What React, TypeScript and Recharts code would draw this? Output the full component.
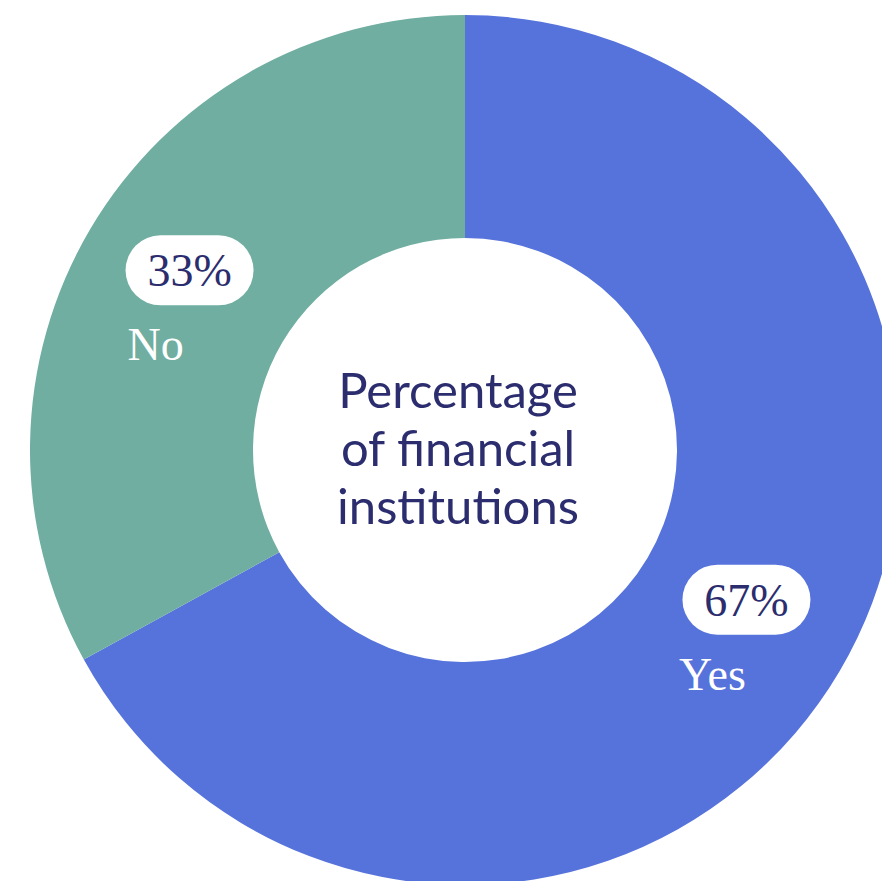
import React from "react";
import { PieChart, Pie, Cell, Label } from "recharts";

const categories = ["Yes", "No"];
const values = [67, 33];
const colors = ["#5673DC", "#6FAEA0"];
const centerLines = ["Percentage", "of financial", "institutions"];

const data = categories.map((name, i) => ({ name, value: values[i] }));

const CX = 465;
const CY = 450;
const RAD = Math.PI / 180;

const renderLabel = (props: any) => {
  const { cx, cy, midAngle, innerRadius, outerRadius, name, value } = props;
  const r = (innerRadius + outerRadius) / 2;
  const x = cx + r * Math.cos(-midAngle * RAD);
  const y = cy + r * Math.sin(-midAngle * RAD);
  const pillW = 128;
  const pillH = 70;
  const px = x + 3;
  const py = y - 15;
  return (
    <g>
      <rect x={px - pillW / 2} y={py - pillH / 2} width={pillW} height={pillH} rx={35} ry={35} fill="#ffffff" />
      <text x={px} y={py + 16} textAnchor="middle" fill="#2B2D6E" fontFamily="'Liberation Serif', serif" fontSize={46}>
        {`${value}%`}
      </text>
      <text x={px - 34} y={y + 75} textAnchor="middle" fill="#ffffff" fontFamily="'Liberation Serif', serif" fontSize={46}>
        {name}
      </text>
    </g>
  );
};

const CenterText = () => (
  <text textAnchor="middle" fill="#2B2D6E" fontFamily="Lato, sans-serif" fontSize={49}>
    {centerLines.map((l, i) => (
      <tspan key={i} x={CX - 7} y={CY - 42 + i * 58}>
        {l}
      </tspan>
    ))}
  </text>
);

export default function App() {
  return (
    <div style={{ position: "absolute", left: 0, top: 0, width: 882, height: 881, background: "#ffffff" }}>
      <PieChart width={882} height={881} margin={{ top: 0, right: 0, bottom: 0, left: 0 }}>
        <Pie
          data={data}
          dataKey="value"
          nameKey="name"
          cx={CX}
          cy={CY}
          innerRadius={212}
          outerRadius={435}
          startAngle={90}
          endAngle={-270}
          stroke="none"
          labelLine={false}
          label={renderLabel}
          isAnimationActive={false}
        >
          {data.map((d, i) => (
            <Cell key={d.name} fill={colors[i]} />
          ))}
          <Label position="center" content={() => <CenterText />} />
        </Pie>
      </PieChart>
    </div>
  );
}
